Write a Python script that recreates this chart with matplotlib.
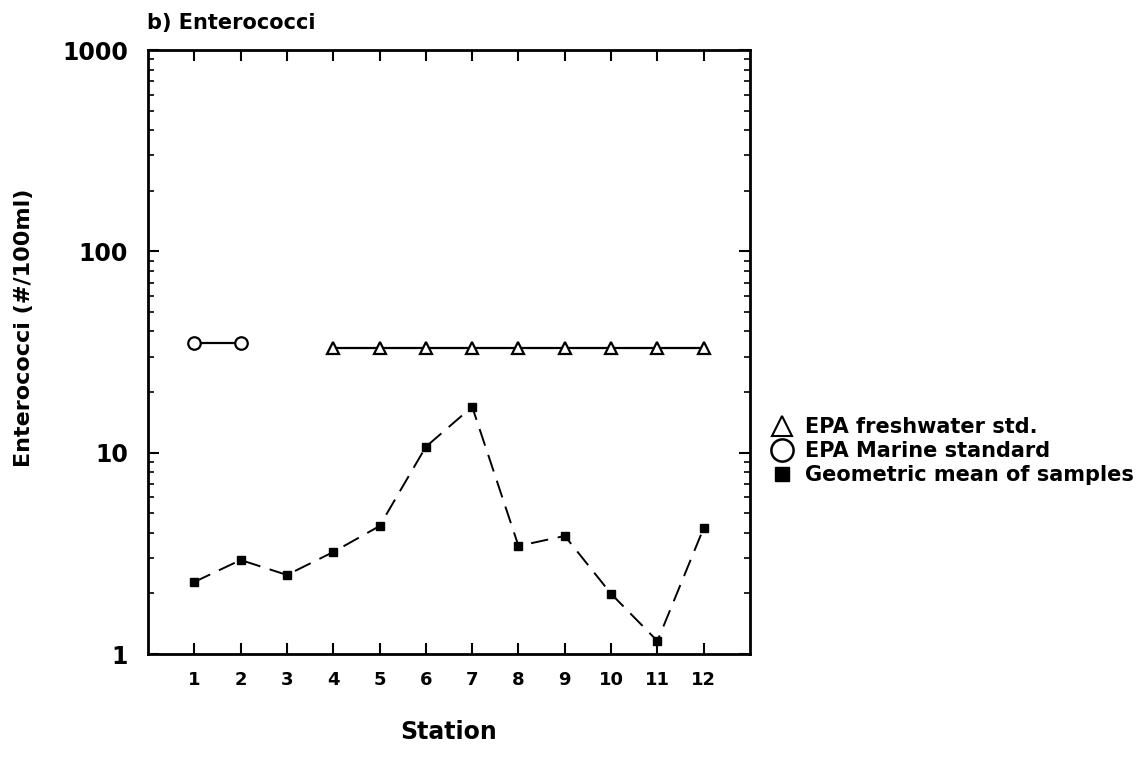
import matplotlib
matplotlib.use("Agg")
import matplotlib.pyplot as plt
from matplotlib.lines import Line2D
from matplotlib.ticker import LogLocator, FixedLocator, NullFormatter

stations = [1, 2, 3, 4, 5, 6, 7, 8, 9, 10, 11, 12]
geo_mean = [2.28, 2.93, 2.47, 3.21, 4.32, 10.7, 16.9, 3.44, 3.86, 1.99, 1.16, 4.23]
marine_stations = [1, 2]
marine_std = [35, 35]
fresh_stations = [4, 5, 6, 7, 8, 9, 10, 11, 12]
fresh_std = [33] * 9
ytick_vals = [1, 10, 100, 1000]
ytick_labels = ["1", "10", "100", "1000"]

plt.rcParams['font.family'] = ['DejaVu Sans']
plt.rcParams['font.weight'] = 'bold'

fig = plt.figure(figsize=(11.43, 7.58), dpi=100)
ax = fig.add_axes([0.1295, 0.1372, 0.5267, 0.7968])

ax.plot(marine_stations, marine_std, color='black', lw=1.6, marker='o',
        markersize=9, markerfacecolor='white', markeredgecolor='black', markeredgewidth=1.6)
ax.plot(fresh_stations, fresh_std, color='black', lw=1.6, marker='^',
        markersize=8, markerfacecolor='white', markeredgecolor='black', markeredgewidth=1.6)
ax.plot(stations, geo_mean, color='black', lw=1.4, ls=(0, (9, 5)), marker='s',
        markersize=6, markerfacecolor='black', markeredgecolor='black')

ax.set_yscale('log')
ax.set_ylim(1, 1000)
ax.set_xlim(0, 13)
ax.set_xticks(stations)
ax.set_xticklabels([str(s) for s in stations], fontsize=13, fontweight='bold')
ax.yaxis.set_major_locator(FixedLocator(ytick_vals))
ax.set_yticklabels(ytick_labels, fontsize=17, fontweight='bold')
ax.yaxis.set_minor_locator(LogLocator(base=10, subs=range(2, 10)))
ax.yaxis.set_minor_formatter(NullFormatter())

ax.tick_params(axis='both', which='major', direction='in', length=8, width=1.5,
               top=True, right=True)
ax.tick_params(axis='y', which='major', pad=14.5)
ax.tick_params(axis='y', which='minor', direction='in', length=4, width=1.2,
               left=True, right=True)
ax.tick_params(axis='x', which='major', pad=12)
for sp in ax.spines.values():
    sp.set_linewidth(2)

ax.set_xlabel('Station', fontsize=17, fontweight='bold')
ax.xaxis.set_label_coords(0.5, -0.109)
ax.set_ylabel('Enterococci (#/100ml)', fontsize=16, fontweight='bold')
ax.yaxis.set_label_coords(-0.19, 0.54)
fig.text(0.1285, 0.970, 'b) Enterococci', fontsize=15, fontweight='bold', ha='left', va='center')

handles = [
    Line2D([], [], ls='none', marker='^', markersize=15, markerfacecolor='white',
           markeredgecolor='black', markeredgewidth=1.5),
    Line2D([], [], ls='none', marker='o', markersize=16, markerfacecolor='white',
           markeredgecolor='black', markeredgewidth=1.8),
    Line2D([], [], ls='none', marker='s', markersize=10, markerfacecolor='black',
           markeredgecolor='black'),
]
labels = ['EPA freshwater std.', 'EPA Marine standard', 'Geometric mean of samples']
fig.legend(handles, labels, loc='center left', bbox_to_anchor=(0.675, 0.405),
           frameon=False, prop={'size': 15, 'weight': 'bold'}, handlelength=1.0,
           handletextpad=0.6, labelspacing=0.2, borderaxespad=0, borderpad=0)

fig.savefig('out.png', dpi=100)
